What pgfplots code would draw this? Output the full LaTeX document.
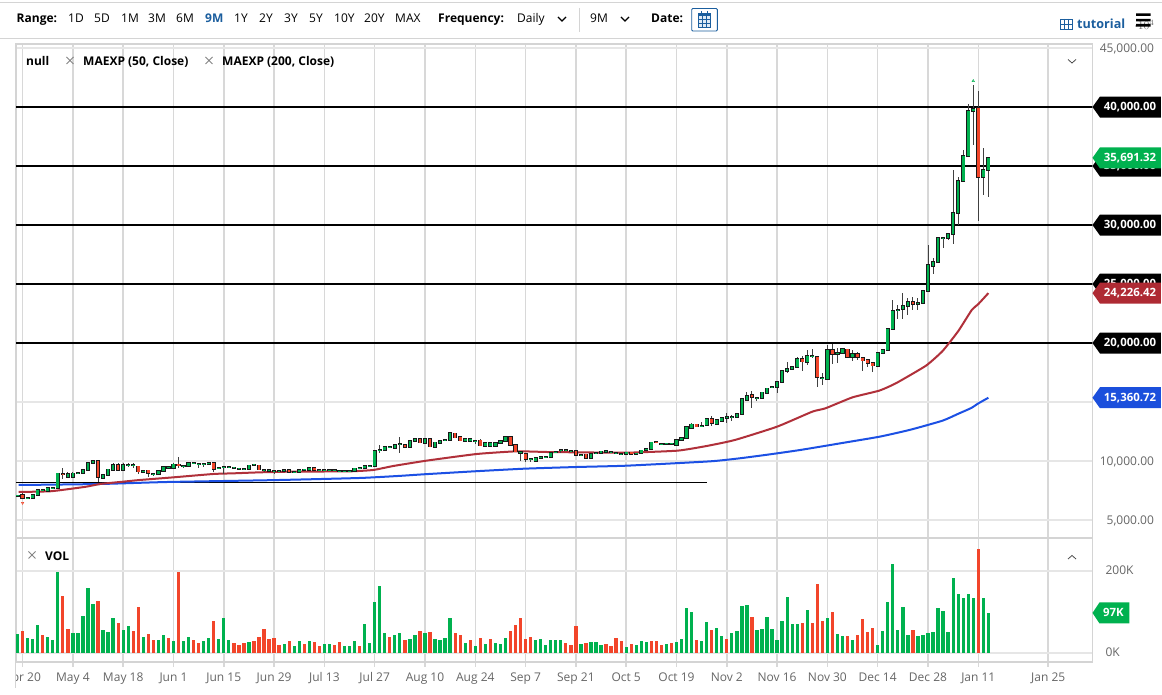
\documentclass[border=0pt]{standalone}
\usepackage{fontspec}
\setmainfont{Open Sans}
\usepackage{pgfplots}
\usepackage{pgfplotstable}
\pgfplotsset{compat=1.18}

\definecolor{upgreen}{HTML}{00B14F}
\definecolor{downred}{HTML}{F2452A}
\definecolor{ma50}{HTML}{B0303A}
\definecolor{ma200}{HTML}{1C50E4}
\definecolor{tagred}{HTML}{AE2A33}
\definecolor{tagblue}{HTML}{1B4FDC}
\definecolor{gridh}{HTML}{E6E6E6}
\definecolor{gridv}{HTML}{D8D8D8}
\definecolor{panel}{HTML}{D4D4D4}
\definecolor{labelgray}{HTML}{666666}
\definecolor{linkblue}{HTML}{1B5E9E}
\definecolor{barblue}{HTML}{2B7CC4}

\newcommand{\tickfont}{\fontsize{12}{14}\selectfont}
\newcommand{\tagfont}{\fontsize{11.4}{14}\selectfont}

% i open high low close
\pgfplotstableread{
i o h l c
-1 7062 7110 7030 7090
0 7119 7260 6752 6836
1 6860 6900 6830 6880
2 6893 7119 6860 7119
3 7119 7571 7100 7571
4 7543 7600 7500 7571
5 7486 7712 7480 7712
6 7712 7770 7690 7740
7 7740 8955 7700 8955
8 8899 9379 8447 8870
9 8673 9096 8616 8899
10 8673 9096 8616 8955
11 8960 9030 8930 8990
12 8955 9266 8940 9266
13 9238 9803 9200 9803
14 9803 10029 9790 10029
15 10000 10030 8249 8616
16 8588 8814 8560 8814
17 8814 9294 8800 9294
18 9266 9859 9250 9690
19 9661 9859 9220 9238
20 9238 9859 9220 9690
21 9660 9859 9492 9690
22 9660 9859 9407 9690
23 9548 9570 8870 9096
24 9096 9180 8955 9125
25 9209 9230 8673 8955
26 8870 8930 8729 8900
27 8870 9181 8850 9181
28 9153 9464 9140 9464
29 9435 9500 9410 9464
30 9435 9859 9420 9718
31 9718 10311 9379 9605
32 9560 9620 9379 9590
33 9605 9803 9590 9803
34 9790 9860 9770 9815
35 9730 9790 9435 9760
36 9730 9790 9520 9760
37 9746 9859 9730 9859
38 9859 9880 9096 9322
39 9395 9440 9370 9420
40 9450 9500 8899 9480
41 9480 9520 9460 9500
42 9420 9490 9390 9450
43 9340 9390 9310 9370
44 9310 9360 9290 9330
45 9322 9633 9310 9633
46 9690 9730 9670 9710
47 9633 9650 9250 9266
48 9220 9270 9068 9250
49 9190 9240 9160 9220
50 9140 9200 8899 9170
51 9140 9190 9110 9160
52 9125 9238 9110 9238
53 9238 9260 9050 9068
54 9030 9080 9000 9050
55 9068 9266 9050 9266
56 9260 9300 9230 9280
57 9266 9435 9250 9435
58 9407 9430 9190 9209
59 9195 9240 9170 9220
60 9195 9240 9170 9220
61 9195 9250 9160 9220
62 9195 9240 9170 9215
63 9140 9190 9090 9160
64 9140 9190 9110 9160
65 9170 9210 9140 9190
66 9181 9379 9170 9379
67 9370 9420 9340 9395
68 9379 9605 9360 9605
69 9590 9650 9570 9610
70 9605 10876 9590 10876
71 10900 11356 10650 10950
72 10932 11215 10920 11215
73 11170 11240 11130 11190
74 11130 11385 11110 11385
75 11400 12063 10706 11430
76 11385 11400 11130 11159
77 11215 11724 11190 11724
78 11724 11837 11710 11837
79 11837 11850 11530 11554
80 11554 11893 11540 11893
81 11865 11880 11190 11215
82 11187 11582 11170 11582
83 11554 11695 11530 11695
84 11740 11790 11720 11760
85 11808 12373 11790 12373
86 12345 12370 11960 11978
87 12034 12050 11700 11724
88 11695 11893 11670 11893
89 11695 11837 11670 11837
90 11680 11730 11413 11710
91 11752 11850 11280 11300
92 11272 11554 11250 11554
93 11272 11526 11250 11526
94 11272 11526 11250 11526
95 11497 11695 11480 11695
96 11667 12034 11650 12034
97 12034 12060 11330 11356
98 11385 11400 10770 10791
99 10720 10760 9970 10740
100 10594 10620 9944 10170
101 10130 10170 9944 10150
102 9972 10283 9950 10283
103 10290 10340 10270 10320
104 10320 10370 10300 10340
105 10311 10706 10290 10706
106 10780 10830 10740 10800
107 10930 11046 10706 10950
108 10910 10960 10880 10932
109 10860 10910 10830 10876
110 10876 10900 10460 10481
111 10490 10540 10470 10510
112 10565 10590 10200 10226
113 10226 10622 10200 10622
114 10690 10740 10670 10710
115 10706 10819 10690 10819
116 10800 10850 10780 10830
117 10730 10770 10700 10750
118 10690 10740 10670 10710
119 10580 10620 10560 10594
120 10594 10735 10570 10735
121 10735 10760 10540 10565
122 10630 10680 10600 10650
123 10650 10904 10630 10904
124 10970 11020 10950 10990
125 10990 11582 10970 11582
126 11590 11620 11540 11560
127 11440 11490 11420 11470
128 11480 11520 11450 11497
129 11480 11520 11450 11497
130 11328 11780 11310 11780
131 11752 11978 11730 11978
132 11922 12854 11900 12854
133 12826 13249 12810 13108
134 13108 13130 12890 12911
135 12970 13334 12854 13000
136 13023 13588 13000 13588
137 13588 13815 12967 13193
138 13165 13504 13052 13504
139 13419 13645 13400 13645
140 13680 14041 13250 13710
141 13710 13899 13419 13740
142 13702 14012 13680 14012
143 14012 15227 13990 15227
144 15199 15877 15180 15538
145 15566 15933 14464 15396
146 15340 15390 15114 15370
147 15368 15820 15350 15820
148 15792 16159 15780 16159
149 16280 16330 16260 16300
150 16244 16696 15735 16696
151 16668 17628 16650 17628
152 17600 18391 17431 17798
153 17770 17967 17750 17967
154 17939 18787 17920 18617
155 18617 18900 17628 18419
156 18419 19408 18137 18928
157 18880 19464 18758 18910
158 18843 18860 16300 17091
159 17010 17431 16442 17040
160 16979 19832 16960 19380
161 19380 19917 18221 19069
162 19100 19549 18334 19130
163 19125 19493 19100 19493
164 19464 19480 18760 18787
165 18787 19408 18504 19069
166 19069 19267 18560 18787
167 18758 18780 17657 18504
168 18532 18560 17939 18306
169 18306 18320 17572 18080
170 18052 19182 18030 19182
171 19182 19436 19160 19436
172 19408 21188 19390 21188
173 21160 23646 21140 22742
174 22800 23222 22007 22830
175 22854 24211 22007 23137
176 23137 23787 22374 23448
177 23448 23872 22798 23278
178 23340 23787 22770 23370
179 23363 24436 23340 24436
180 24380 28307 24360 26583
181 26555 27177 25849 26894
182 26838 28872 26820 28872
183 28870 29013 28024 28928
184 28928 29211 28731 29211
185 29211 34663 28392 30990
186 30990 34098 30002 33759
187 33759 36358 33740 35850
188 35850 40228 35830 39663
189 39635 41867 36782 39861
190 39890 41387 30341 34041
191 34041 36499 32544 34663
192 34663 35793 32403 35691
}\candles

% volume in thousands
\pgfplotstableread{
i v
-1 44.7
1 35.8
2 33.3
3 67.5
5 38.2
6 31.7
7 197.6
10 48
11 48
12 89.4
13 156.9
14 119.5
16 55.3
17 51.2
18 83.7
20 55.3
21 65.9
24 38.2
27 30.9
28 43.1
30 27.6
32 28.5
33 37.4
36 28.5
37 36.6
39 33.3
40 84.6
41 30.9
45 26
52 21.1
54 16.3
55 28.5
57 27.6
60 21.1
61 21.1
64 16.3
65 15.4
66 28.5
68 69.9
69 24.4
70 123.6
71 161.8
72 48.8
74 43.1
75 47.2
77 32.5
78 43.1
80 47.2
82 34.1
83 30.1
84 35.8
85 84.6
88 22.8
90 16.3
92 22
94 24.4
95 20.3
96 35.8
102 31.7
103 32.5
104 18.7
105 30.1
106 30.9
107 30.9
111 20.3
113 26.8
114 26.8
115 18.7
120 14.6
122 18.7
123 27.6
124 25.2
128 22
130 25.2
131 32.5
132 109.8
133 98.4
135 28.5
136 74.8
138 61
139 39.8
141 47.2
142 52.8
143 113
144 115.4
146 55.3
147 57.7
148 87
149 56.9
150 30.1
151 77.2
152 135.8
153 69.9
154 69.1
156 104.9
160 85.4
162 46.3
163 40.7
165 31.7
170 19.5
171 53.7
172 123.6
173 215.4
174 54.5
175 110.6
176 43.1
178 41.5
179 42.3
180 47.2
181 51.2
182 109.8
183 101.6
184 49.6
185 182.1
186 142.3
187 132.5
188 142.3
189 133.3
191 133.3
192 96
}\volup

\pgfplotstableread{
i v
0 52.8
4 43.9
8 137.4
9 56.9
15 126
19 71.5
22 52
23 110.6
25 44.7
26 30.1
29 35.8
31 195.9
34 31.7
35 22.8
38 77.2
42 24.4
43 18.7
44 23.6
46 28.5
47 38.2
48 57.7
49 32.5
50 35.8
51 18.7
53 28.5
56 21.1
58 25.2
59 17.1
62 17.9
63 25.2
67 17.1
73 38.2
76 30.9
79 52.8
81 49.6
86 47.2
87 43.1
89 30.9
91 35
93 34.1
97 52
98 66.7
99 84.6
100 32.5
101 37.4
108 23.6
109 18.7
110 64.2
112 23.6
116 22
117 17.1
118 35.8
119 28.5
121 20.3
125 27.6
126 27.6
127 18.7
129 23.6
134 30.1
137 54.5
140 34.1
145 87
155 71.5
157 71.5
158 166.7
159 76.4
161 98.4
164 41.5
166 43.1
167 81.3
168 51.2
169 59.3
177 56.1
190 252.8
}\voldown

\pgfplotsset{
  panel axis/.style={
    scale only axis,
    width=1076.5pt,
    xmin=-1.31, xmax=212.7,
    xtick={0,10,...,190,203.9},
    grid=major,
    x grid style={gridv, line width=1.5pt},
    y grid style={gridh, line width=2pt},
    axis line style={draw=panel, line width=1.5pt},
    yticklabel pos=right,
    tick label style={font=\tickfont, text=labelgray},
  },
}

% price tag at the right edge of the panel
\newcommand{\pricetag}[3]{%
  \fill[#2] (#1) -- ++(7.5,-10.5) -- ++(61,0) -- ++(0,21) -- ++(-61,0) -- cycle;
  \node[text=white, inner sep=0pt, font=\bfseries\tagfont] at ([xshift=37.5pt]#1) {#3};
}
% toolbar and legend texts sit on a baseline
\newcommand{\tb}[3][black]{\node[anchor=base west, inner sep=0pt, text=#1, font=\tickfont] at (#2,23) {#3};}
\newcommand{\lb}[3]{\node[anchor=base west, inner sep=0pt, font=\bfseries\tickfont] at (#1,#2) {#3};}
\newcommand{\cross}[2]{\draw[labelgray!80, line width=.9pt] (#1-3.5,#2-3.5) -- (#1+3.5,#2+3.5) (#1-3.5,#2+3.5) -- (#1+3.5,#2-3.5);}

\begin{document}
\begin{tikzpicture}
\useasboundingbox (0,0) rectangle (1162pt,695pt);
\fill[white] (0,0) rectangle (1162pt,695pt);

% price panel
\begin{axis}[
  panel axis,
  at={(16pt,157pt)}, anchor=south west,
  height=494pt,
  ymin=3475, ymax=45341,
  ytick={5000,10000,15000,20000,25000,30000,35000,40000,45000},
  yticklabels={{5,000.00},{10,000.00},{},{},{},{},{},{},{45,000.00}},
  yticklabel style={anchor=east, xshift=65pt, yshift=-.5pt},
  xticklabels={},
  tick style={draw=none},
]
\addplot[black, line width=2.1pt] coordinates {(-2,40000) (213,40000)};
\addplot[black, line width=2.1pt] coordinates {(-2,35000) (213,35000)};
\addplot[black, line width=2.1pt] coordinates {(-2,30000) (213,30000)};
\addplot[black, line width=2.1pt] coordinates {(-2,25000) (213,25000)};
\addplot[black, line width=2.1pt] coordinates {(-2,20000) (213,20000)};
\addplot[black, line width=1.3pt] coordinates {(-2,8180) (136,8180)};

% moving averages
\addplot[ma200, line width=2pt, smooth, tension=.3] coordinates {
  (-0.8,7966) (15.4,8051) (28.7,8220) (50,8380) (67,8560) (75,8740) (80,8880)
  (90,9130) (99.8,9350) (110.2,9492) (120.2,9605) (136.7,9972) (142.6,10230)
  (148.5,10560) (154.6,10933) (162.6,11500) (170.4,12063) (176.5,12650)
  (182.9,13419) (186,14000) (188.6,14492) (190,14880) (192,15360.72)
};
\addplot[ma50, line width=2pt, smooth, tension=.3] coordinates {
  (-0.8,7373) (5.4,7430) (8.8,7599) (12.7,7825) (15.4,8051) (20,8249) (23.3,8390)
  (30,8616) (37.9,8899) (41.9,8955) (47.2,9040) (53.2,9096) (65,9125) (69.7,9238)
  (73.7,9576) (80.3,10029) (90.3,10594) (98.2,10820) (104.2,10763) (110.2,10735)
  (120.2,10706) (130.2,10876) (136,11272) (141.6,11780) (150,12911) (157,14182)
  (159.6,14464) (165,15396) (170.3,15962) (173.6,16583) (179.6,18080) (182.9,19323)
  (186,21000) (188.7,22798) (190,23300) (192,24226.42)
};

% candles: wicks, outline, then coloured bodies
\addplot[draw=none, mark=none, error bars/.cd, y dir=both, y explicit, error mark=none,
    error bar style={draw=black!75, line width=1pt}]
  table[x=i, y=o, y error plus expr=\thisrow{h}-\thisrow{o}, y error minus expr=\thisrow{o}-\thisrow{l}] {\candles};
\addplot[draw=none, mark=none, error bars/.cd, y dir=both, y explicit, error mark=none,
    error bar style={draw=black!90, line width=4.2pt}]
  table[x=i, y=o,
    y error plus expr={max(\thisrow{o},\thisrow{c})-\thisrow{o}+70},
    y error minus expr={\thisrow{o}-min(\thisrow{o},\thisrow{c})+70}] {\candles};
\addplot[draw=none, mark=none, x filter/.expression={\thisrow{c}>=\thisrow{o} ? x : nan},
    error bars/.cd, y dir=plus, y explicit, error mark=none,
    error bar style={draw=upgreen, line width=2.6pt}]
  table[x=i, y=o, y error plus expr=\thisrow{c}-\thisrow{o}] {\candles};
\addplot[draw=none, mark=none, x filter/.expression={\thisrow{c}<\thisrow{o} ? x : nan},
    error bars/.cd, y dir=plus, y explicit, error mark=none,
    error bar style={draw=downred, line width=2.6pt}]
  table[x=i, y=c, y error plus expr=\thisrow{o}-\thisrow{c}] {\candles};

% high and low markers
\addplot[only marks, mark=triangle, mark size=1.4pt, upgreen, mark options={line width=.5pt}] coordinates {(189,42206)};
\addplot[only marks, mark=triangle, mark size=1.4pt, downred, mark options={rotate=180, line width=.5pt}] coordinates {(0,6441)};

\coordinate (t40) at (axis cs:212.7,40000);
\coordinate (t35) at (axis cs:212.7,35000);
\coordinate (t30) at (axis cs:212.7,30000);
\coordinate (t25) at (axis cs:212.7,25000);
\coordinate (t20) at (axis cs:212.7,20000);
\coordinate (tclose) at (axis cs:212.7,35691.32);
\coordinate (tma50) at (axis cs:212.7,24226.42);
\coordinate (tma200) at (axis cs:212.7,15360.72);
\end{axis}

% volume panel
\begin{axis}[
  panel axis,
  at={(16pt,33pt)}, anchor=south west,
  height=124pt,
  ymin=-22.7, ymax=279.8,
  ytick={0,200},
  yticklabels={0K,200K},
  yticklabel style={anchor=west, xshift=4.5pt},
  xticklabels={Apr 20,May 4,May 18,Jun 1,Jun 15,Jun 29,Jul 13,Jul 27,Aug 10,Aug 24,Sep 7,Sep 21,Oct 5,Oct 19,Nov 2,Nov 16,Nov 30,Dec 14,Dec 28,Jan 11,Jan 25},
  xticklabel style={yshift=-2pt},
  x tick style={draw=gridv, line width=1.5pt},
  y tick style={draw=none},
  major tick length=5pt,
  tick align=outside,
  xtick pos=lower,
]
\addplot[ycomb, upgreen, line width=3.3pt] table[x=i, y=v] {\volup};
\addplot[ycomb, downred, line width=3.3pt] table[x=i, y=v] {\voldown};
\coordinate (tvol) at (axis cs:212.7,97);
\end{axis}

% everything below is in reference pixels, y downward
\begin{scope}[x=1pt, y=-1pt, yshift=695pt]
% clipped first date label and left rule
\fill[white] (0,667) rectangle (15,690);
\draw[panel, line width=1.2pt] (15.6,44) -- (15.6,688);

% price tags
\pricetag{t40}{black}{40,000.00}
\pricetag{t35}{black}{35,000.00}
\pricetag{t30}{black}{30,000.00}
\pricetag{t25}{black}{25,000.00}
\pricetag{t20}{black}{20,000.00}
\pricetag{tclose}{upgreen}{35,691.32}
\pricetag{tma50}{tagred}{24,226.42}
\pricetag{tma200}{tagblue}{15,360.72}
\fill[upgreen] (tvol) -- ++(7,-10.5) -- ++(30,0) -- ++(0,21) -- ++(-30,0) -- cycle;
\node[text=white, inner sep=0pt, font=\bfseries\tagfont] at ([xshift=21pt]tvol) {97K};

% legend rows
\lb{26}{65.5}{null}
\cross{70}{60.5}
\lb{83}{65.5}{MAEXP (50, Close)}
\cross{209}{60.5}
\lb{222}{65.5}{MAEXP (200, Close)}
\draw[black!70, line width=.8pt] (1068,59.5) -- (1072,63) -- (1076,59.5);
\cross{32}{555}
\lb{45}{561}{VOL}
\draw[black!70, line width=.8pt] (1068,559) -- (1072,555.5) -- (1076,559);

% toolbar
\draw[panel, line width=1.2pt] (0,2.5) -- (1162,2.5);
\draw[panel, line width=1pt] (0,38.5) -- (1162,38.5);
\draw[panel, line width=1.5pt] (16,44) -- (1092,44);
\tb{16.5}{\bfseries Range:}
\tb{68}{1D} \tb{94}{5D} \tb{121}{1M} \tb{148}{3M} \tb{176}{6M}
\tb[linkblue]{205}{\bfseries 9M}
\tb{234}{1Y} \tb{259}{2Y} \tb{284}{3Y} \tb{309}{5Y} \tb{334}{10Y} \tb{364}{20Y} \tb{395}{MAX}
\tb{438}{\bfseries Frequency:}
\tb{517}{Daily}
\draw[black, line width=1.2pt] (558,17) -- (562,21) -- (566,17);
\draw[panel, line width=1pt] (579,8) -- (579,32);
\tb{590}{9M}
\draw[black, line width=1.2pt] (621,17) -- (625,21) -- (629,17);
\tb{651}{\bfseries Date:}
\draw[linkblue, line width=.9pt, rounded corners=1pt] (691.7,8.5) rectangle (717.3,31);
\draw[linkblue, line width=.8pt, fill=barblue!15] (698,13) rectangle (710,27);
\fill[linkblue] (698,13) rectangle (710,16);
\draw[linkblue, line width=.4pt] (698,19.5) -- (710,19.5) (698,23) -- (710,23) (702,16) -- (702,27) (706,16) -- (706,27);
\draw[linkblue, line width=1pt] (701,11) -- (701,14) (707,11) -- (707,14);
% tutorial link and menu
\draw[linkblue, line width=.9pt] (1060.5,19) rectangle (1072,29) (1064,19) -- (1064,29) (1068.5,19) -- (1068.5,29) (1060.5,24) -- (1072,24);
\node[anchor=base west, inner sep=0pt, text=linkblue, font=\bfseries\fontsize{12.6}{14}\selectfont] at (1077,28.3) {tutorial};
\fill[black] (1136,13.4) rectangle (1150.5,16) (1136,18.8) rectangle (1150.5,21.4) (1136,24) rectangle (1150.5,26.6);
\end{scope}
\end{tikzpicture}
\end{document}
